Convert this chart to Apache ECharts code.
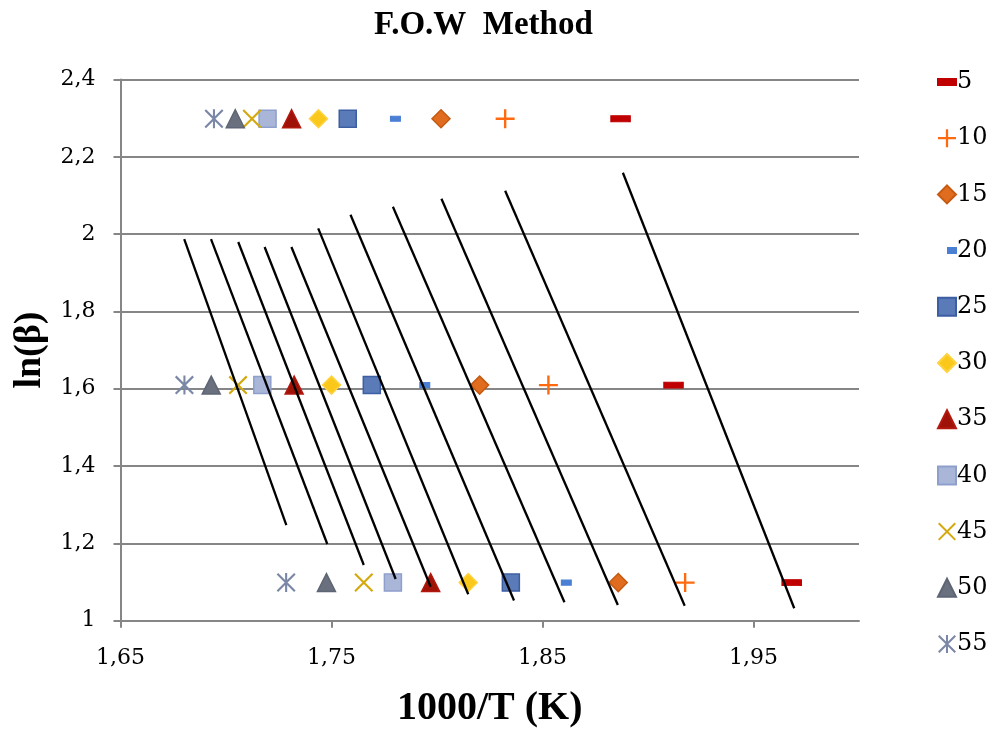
<!DOCTYPE html>
<html>
<head>
<meta charset="utf-8">
<script src="https://cdn.jsdelivr.net/npm/echarts@6/dist/echarts.min.js"></script>
<style>
  html, body { margin: 0; padding: 0; background: #fff; }
  #chart { width: 994px; height: 730px; }
</style>
</head>
<body>
<div id="chart"></div>
<script>
// conversion degrees (legend order)
const conversions = ['5', '10', '15', '20', '25', '30', '35', '40', '45', '50', '55']
// ln(beta) for the three heating rates
const lnBeta = [1.0986, 1.6094, 2.2985]
// 1000/T at each heating rate, one value per conversion
const xBeta3 = [1.9681, 1.9176, 1.8859, 1.8613, 1.8350, 1.8148, 1.7970, 1.7791, 1.7653, 1.7476, 1.7285]
const xBeta5 = [1.9121, 1.8528, 1.8202, 1.7942, 1.7691, 1.7500, 1.7323, 1.7172, 1.7057, 1.6930, 1.6803]
const xBeta10 = [1.8870, 1.8323, 1.8019, 1.7803, 1.7577, 1.7438, 1.7311, 1.7197, 1.7123, 1.7044, 1.6943]
// fitted lines, start and end points per conversion
const lineTopX = [1.8881, 1.8323, 1.8021, 1.7791, 1.7590, 1.7437, 1.7310, 1.7183, 1.7058, 1.6929, 1.6802]
const lineTopY = [2.1588, 2.1123, 2.0916, 2.0709, 2.0502, 2.0150, 1.9666, 1.9666, 1.9796, 1.9873, 1.9873]
const lineBotX = [1.9693, 1.9174, 1.8857, 1.8604, 1.8365, 1.8148, 1.7970, 1.7804, 1.7653, 1.7480, 1.7286]
const lineBotY = [1.0321, 1.0388, 1.0406, 1.0476, 1.0522, 1.0683, 1.0879, 1.1079, 1.1441, 1.1984, 1.2475]
// axis ticks
const xTicks = [1.65, 1.75, 1.85, 1.95]

const PLUS = 'path://M8.75,0h2.5v8.75h8.75v2.5h-8.75v8.75h-2.5v-8.75h-8.75v-2.5h8.75z'
const CROSS = 'path://M1.6,0L20,18.4L18.4,20L0,1.6Z M18.4,0L20,1.6L1.6,20L0,18.4Z'
const STAR = 'path://M8.9,0L11.1,0L11.1,20L8.9,20Z M1.6,0L20,18.4L18.4,20L0,1.6Z M18.4,0L20,1.6L1.6,20L0,18.4Z'

const markers = [
  { symbol: 'rect', size: [18, 6], color: '#C00000', border: '#C00000', icon: 'path://M0,0h18v6h-18z' },
  { symbol: PLUS, size: 19, color: '#FF6A10', border: 'transparent' },
  { symbol: 'diamond', size: 18, color: '#E06C1F', border: '#C65A11' },
  { symbol: 'rect', size: [9, 5], color: '#4A7FD4', border: '#4A7FD4', icon: 'path://M0,0M18,18M10,6.5h8v5h-8z' },
  { symbol: 'rect', size: 17, color: '#5A7AB8', border: '#3C5EA2' },
  { symbol: 'diamond', size: 18, color: '#F9C81A', border: '#FFD23F' },
  { symbol: 'triangle', size: 18, color: '#9E1208', border: '#B3180E' },
  { symbol: 'rect', size: 17, color: '#A9B6D8', border: '#8E9FCC' },
  { symbol: CROSS, size: 19, color: '#D4A90F', border: 'transparent' },
  { symbol: 'triangle', size: 18, color: '#6A707E', border: '#5E6574' },
  { symbol: STAR, size: 19, color: '#7B87A6', border: 'transparent' }
]

const fmt = (v) => String(+(+v).toFixed(2)).replace('.', ',')
const serif = 'DejaVu Serif'
const boldSerif = 'Liberation Serif'

const series = []
conversions.forEach((name, i) => {
  const m = markers[i]
  series.push({
    name,
    type: 'scatter',
    symbol: m.symbol,
    symbolSize: m.size,
    symbolKeepAspect: true,
    z: 2,
    itemStyle: { color: m.color, borderColor: m.border, borderWidth: 1.5, opacity: 1 },
    data: [[xBeta3[i], lnBeta[0]], [xBeta5[i], lnBeta[1]], [xBeta10[i], lnBeta[2]]]
  })
})
conversions.forEach((name, i) => {
  series.push({
    name: 'fit ' + name,
    type: 'line',
    symbol: 'none',
    silent: true,
    z: 3,
    lineStyle: { color: '#000', width: 2.3 },
    data: [[lineTopX[i], lineTopY[i]], [lineBotX[i], lineBotY[i]]]
  })
})

const chart = echarts.init(document.getElementById('chart'))
chart.setOption({
  animation: false,
  backgroundColor: '#fff',
  title: {
    text: 'F.O.W  Method',
    left: 369,
    top: 4,
    textStyle: { fontFamily: boldSerif, fontWeight: 'bold', fontSize: 33, color: '#000' }
  },
  grid: { left: 120.5, right: 135, top: 79.5, bottom: 109.3, outerBoundsMode: 'none' },
  legend: {
    orient: 'vertical',
    left: 937,
    top: 70,
    padding: 0,
    itemWidth: 18,
    itemHeight: 18,
    itemGap: 32.2,
    textStyle: { fontFamily: serif, fontSize: 24, color: '#000', padding: [0, 0, 0, -4] },
    data: conversions.map((name, i) => markers[i].icon ? { name, icon: markers[i].icon } : { name })
  },
  xAxis: {
    type: 'value',
    min: 1.65,
    max: 2.0,
    interval: 0.1,
    name: '1000/T (K)',
    nameLocation: 'middle',
    nameGap: 68,
    nameTextStyle: { fontFamily: boldSerif, fontWeight: 'bold', fontSize: 40, color: '#000' },
    axisLine: { show: true, lineStyle: { color: '#868686', width: 2 } },
    axisTick: { show: true, length: 7, customValues: xTicks, lineStyle: { color: '#868686', width: 2 } },
    axisLabel: { customValues: xTicks, formatter: fmt, fontFamily: serif, fontSize: 22, color: '#000', margin: 27 },
    splitLine: { show: false }
  },
  yAxis: {
    type: 'value',
    min: 1,
    max: 2.4,
    interval: 0.2,
    name: 'ln(β)',
    nameLocation: 'middle',
    nameGap: 70,
    nameTextStyle: { fontFamily: boldSerif, fontWeight: 'bold', fontSize: 38, color: '#000' },
    axisLine: { show: true, lineStyle: { color: '#868686', width: 2 } },
    axisTick: { show: true, length: 7, lineStyle: { color: '#868686', width: 2 } },
    axisLabel: { formatter: fmt, fontFamily: serif, fontSize: 22, color: '#000', margin: 25 },
    splitLine: { show: true, lineStyle: { color: '#868686', width: 2 } }
  },
  series
})
</script>
</body>
</html>
